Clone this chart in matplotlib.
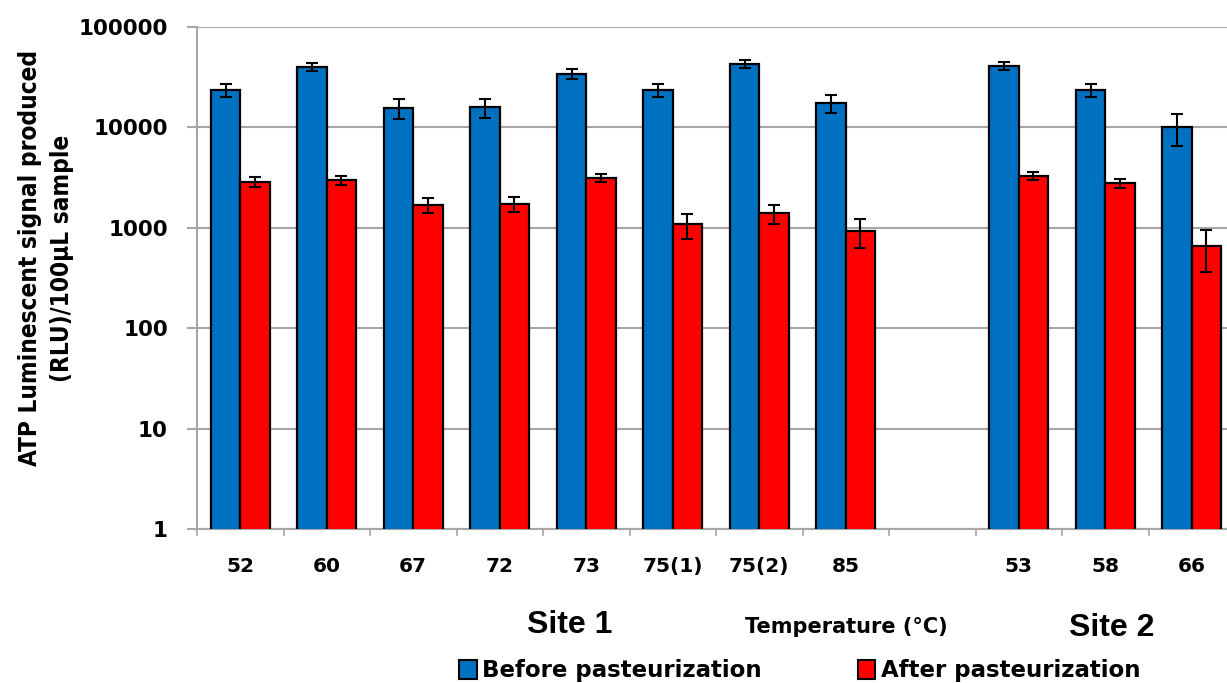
import matplotlib
matplotlib.use("Agg")
import matplotlib.pyplot as plt
from matplotlib import font_manager
from matplotlib.patches import Patch
import numpy as np

# Temperatures (°C); empty slot separates Site 1 and Site 2
labels = ["52", "60", "67", "72", "73", "75(1)", "75(2)", "85", "", "53", "58", "66"]
slots = [0, 1, 2, 3, 4, 5, 6, 7, 9, 10, 11]

before = [23600, 40400, 15700, 15900, 34200, 23700, 42800, 17600, 40800, 23700, 10100]
before_err = [3500, 3700, 3500, 3500, 3700, 3600, 3750, 3600, 3700, 3500, 3500]
after = [2890, 2960, 1690, 1740, 3160, 1080, 1390, 925, 3310, 2780, 657]
after_err = [320, 315, 300, 300, 300, 305, 300, 300, 315, 305, 295]

BLUE = "#0070C0"
RED = "#FF0000"
GRID = "#A6A6A6"

W, H = 1227, 683
fig = plt.figure(figsize=(W / 100, H / 100), dpi=100)
ax = fig.add_axes([197 / W, 1 - 529 / H, 1038 / W, 502 / H])

x = np.array(slots, dtype=float)
bw = 0.34
ax.bar(x - bw / 2, before, bw, color=BLUE, edgecolor="black", linewidth=1.6, zorder=3)
ax.bar(x + bw / 2, after, bw, color=RED, edgecolor="black", linewidth=1.6, zorder=3)
ekw = dict(fmt="none", ecolor="black", elinewidth=1.5, capsize=4, capthick=1.5, zorder=4)
ax.errorbar(x - bw / 2, before, yerr=before_err, **ekw)
ax.errorbar(x + bw / 2, after, yerr=after_err, **ekw)

ax.set_yscale("log")
ax.set_ylim(1, 100000)
ax.set_xlim(-0.5, len(labels) - 0.5)
ax.set_yticks([1, 10, 100, 1000, 10000, 100000])
ax.set_yticklabels(["1", "10", "100", "1000", "10000", "100000"])
ax.minorticks_off()
ax.yaxis.grid(True, color=GRID, linewidth=1.5, zorder=0)
ax.set_axisbelow(True)

ax.set_xticks(range(len(labels)))
ax.set_xticklabels(labels)
ax.set_xticks(np.arange(-0.5, len(labels), 1.0), minor=True)
ax.tick_params(axis="x", which="major", length=0, pad=20, labelsize=14.5)
ax.tick_params(axis="x", which="minor", length=5, color=GRID, width=1.2)
ax.tick_params(axis="y", which="major", length=7, color=GRID, width=1.5, pad=14,
               labelsize=15.5)
for lab in ax.get_xticklabels() + ax.get_yticklabels():
    lab.set_fontweight("bold")

for side in ("top", "right"):
    ax.spines[side].set_visible(False)
for side in ("left", "bottom"):
    ax.spines[side].set_color(GRID)
    ax.spines[side].set_linewidth(1.5)

# y label looks condensed in the original; use the condensed face when present
cond = font_manager.FontProperties(family="DejaVu Sans", weight="bold", stretch="condensed")
if "Condensed" in font_manager.findfont(cond):
    ylab_font = dict(fontproperties=font_manager.FontProperties(
        family="DejaVu Sans", weight="bold", stretch="condensed", size=17.5))
else:
    ylab_font = dict(fontsize=16, fontweight="bold")
fig.text(30 / W, 1 - 258 / H, "ATP Luminescent signal produced", rotation=90,
         ha="center", va="center", **ylab_font)
fig.text(62 / W, 1 - 258 / H, "(RLU)/100µL sample", rotation=90,
         ha="center", va="center", **ylab_font)

fig.text(570 / W, 1 - 625 / H, "Site 1", ha="center", va="center", fontsize=23,
         fontweight="bold", family="Liberation Sans")
fig.text(1112 / W, 1 - 628 / H, "Site 2", ha="center", va="center", fontsize=23,
         fontweight="bold", family="Liberation Sans")
fig.text(846 / W, 1 - 627 / H, "Temperature (°C)", ha="center", va="center",
         fontsize=15, fontweight="bold")

handles = [Patch(facecolor=BLUE, edgecolor="black", linewidth=1.5),
           Patch(facecolor=RED, edgecolor="black", linewidth=1.5)]
leg = fig.legend(handles, ["Before pasteurization", "After pasteurization"],
                 loc="center left", bbox_to_anchor=(448 / W, 1 - 671 / H), ncol=2,
                 frameon=False, handlelength=0.75, handleheight=0.9,
                 handletextpad=0.25, columnspacing=4.2, borderpad=0,
                 prop={"weight": "bold", "size": 16.5})

fig.savefig("out.png", dpi=100)
